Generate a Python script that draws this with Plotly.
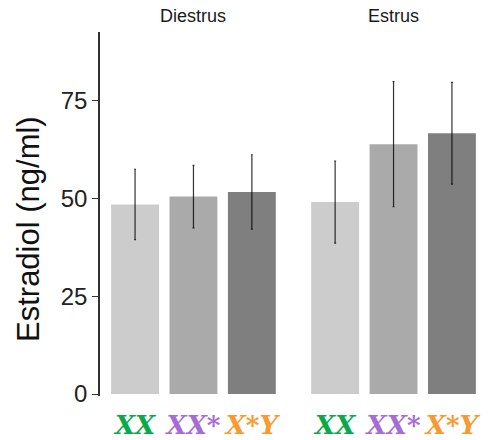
import plotly.graph_objects as go

# Estradiol by genotype and cycle stage (mean ± error)
phases = ["Diestrus", "Estrus"]
genotypes = ["XX", "XX*", "X*Y"]
diestrus_mean = [48.5, 50.5, 51.7]
diestrus_err = [9.0, 8.0, 9.5]
estrus_mean = [49.1, 63.9, 66.7]
estrus_err = [10.5, 16.0, 13.0]

bar_colors = ["#cccccc", "#aaaaaa", "#7f7f7f"]
label_colors = ["#0aaa4a", "#a56cd5", "#f99a30"]

means = [diestrus_mean, estrus_mean]
errs = [diestrus_err, estrus_err]

fig = go.Figure()
for i, phase in enumerate(phases):
    ax = "" if i == 0 else str(i + 1)
    fig.add_trace(go.Bar(
        x=genotypes, y=means[i],
        marker=dict(color=bar_colors, line=dict(width=0)),
        width=0.82,
        error_y=dict(type="data", array=errs[i], visible=True,
                     color="rgba(0,0,0,0.8)", thickness=1.2, width=1),
        xaxis="x" + ax, yaxis="y",
        showlegend=False, hoverinfo="skip",
    ))

ticktext = [
    f'<span style="color:{c}"><b><i>{g}</i></b></span>'
    for g, c in zip(genotypes, label_colors)
]

xcommon = dict(
    type="category", range=[-0.6, 2.6], showline=False, showgrid=False,
    zeroline=False, ticks="", tickvals=genotypes, ticktext=ticktext,
    tickangle=0, ticklabelstandoff=11,
    tickfont=dict(family="DejaVu Serif", size=26),
)
fig.update_layout(
    width=490, height=440,
    margin=dict(l=100, r=3, t=32, b=44),
    paper_bgcolor="white", plot_bgcolor="white",
    xaxis=dict(domain=[0, 0.483], anchor="y", automargin=False, **xcommon),
    xaxis2=dict(domain=[0.517, 1], anchor="y", automargin=False, **xcommon),
    yaxis=dict(
        range=[-0.5, 92.6], tickvals=[0, 25, 50, 75],
        showgrid=False, zeroline=False,
        showline=True, linecolor="#333333", linewidth=1.6,
        ticks="outside", ticklen=6, tickcolor="#333333", tickwidth=1.2,
        tickfont=dict(family="Liberation Sans", size=24, color="#222222"),
    ),
)

# y-axis title, placed a little below the panel centre
fig.add_annotation(
    text="Estradiol (ng/ml)", xref="paper", yref="paper",
    x=-0.1835, y=0.4588, xanchor="center", yanchor="middle",
    textangle=-90, showarrow=False,
    font=dict(family="Liberation Sans", size=31, color="#111111"),
)

for i, phase in enumerate(phases):
    dom = fig.layout.xaxis.domain if i == 0 else fig.layout.xaxis2.domain
    fig.add_annotation(
        text=phase, xref="paper", yref="paper",
        x=(dom[0] + dom[1]) / 2, xanchor="center",
        y=1.0, yshift=4, yanchor="bottom",
        showarrow=False,
        font=dict(family="Liberation Sans", size=18, color="#1a1a1a"),
    )

fig.write_html("out.html")
